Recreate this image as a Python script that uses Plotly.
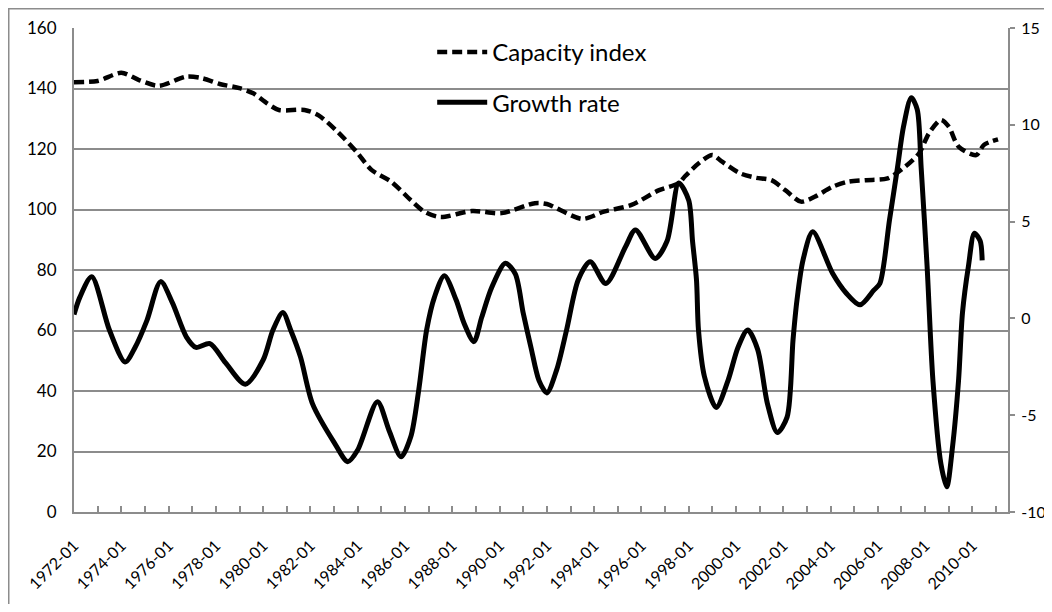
import plotly.graph_objects as go

# Capacity index (left axis)
cap_dates = ["1972-01", "1973-01", "1974-01", "1974-10", "1975-08", "1976-10", "1977-06",
             "1978-03", "1979-01", "1979-08", "1980-03", "1980-09", "1981-10", "1982-05",
             "1983-03", "1984-01", "1984-08", "1985-06", "1986-04", "1986-11", "1987-07",
             "1988-11", "1990-02", "1991-07", "1992-01", "1993-07", "1994-06", "1995-08",
             "1996-10", "1997-08", "1997-11", "1998-06", "1999-01", "1999-06", "2000-03",
             "2000-11", "2001-07", "2002-02", "2002-10", "2003-05", "2004-02", "2004-10",
             "2005-07", "2006-06", "2007-03", "2007-10", "2008-03", "2008-09", "2009-01",
             "2009-06", "2010-03", "2010-07", "2011-02"]
cap_values = [142.1, 142.5, 145.2, 142.8, 140.9, 143.9, 143.4,
              141.5, 140.1, 138.4, 135.1, 132.9, 132.9, 131.2,
              125.6, 118.6, 113.1, 109.2, 103.1, 99.2, 97.5,
              99.5, 98.8, 102.1, 101.8, 96.9, 99.3, 101.5,
              106.4, 108.7, 110.9, 115.2, 118.0, 115.8, 112.0,
              110.5, 109.7, 106.4, 102.6, 104.2, 107.5, 109.2,
              109.7, 110.3, 114.2, 118.6, 125.2, 129.6, 127.4,
              120.8, 118.0, 121.4, 123.2]

# Growth rate (right axis)
growth_dates = ["1972-01", "1972-04", "1972-10", "1973-07", "1974-03", "1974-08", "1975-02",
                "1975-09", "1976-03", "1976-10", "1977-03", "1977-10", "1978-06", "1979-04",
                "1980-01", "1980-06", "1980-11", "1981-03", "1981-08", "1982-02", "1983-01",
                "1983-08", "1984-01", "1984-11", "1985-05", "1985-11", "1986-04", "1986-08",
                "1986-12", "1987-04", "1987-09", "1988-03", "1988-07", "1988-12", "1989-04",
                "1989-09", "1990-04", "1990-09", "1991-01", "1991-05", "1991-09", "1992-01",
                "1992-06", "1992-11", "1993-05", "1993-11", "1994-07", "1995-05", "1995-10",
                "1996-08", "1997-02", "1997-08", "1998-01", "1998-03", "1998-05", "1998-06",
                "1998-09", "1999-03", "1999-09", "2000-02", "2000-07", "2000-12", "2001-05",
                "2001-10", "2002-03", "2002-06", "2002-08", "2002-11", "2003-04", "2004-02",
                "2004-09", "2005-04", "2005-11", "2006-02", "2006-07", "2006-11", "2007-02",
                "2007-06", "2007-09", "2007-11", "2008-02", "2008-05", "2008-09", "2008-12",
                "2009-03", "2009-06", "2009-08", "2009-11", "2010-02", "2010-05", "2010-06"]
growth_values = [0.2, 1.1, 2.15, -0.6, -2.25, -1.5, -0.1,
                 1.9, 0.8, -0.95, -1.5, -1.3, -2.3, -3.4,
                 -2.15, -0.6, 0.3, -0.6, -2.0, -4.4, -6.4,
                 -7.4, -6.8, -4.3, -5.8, -7.15, -6.1, -3.7,
                 -0.6, 1.1, 2.2, 0.95, -0.25, -1.2, 0.07,
                 1.6, 2.85, 2.3, 0.28, -1.5, -3.2, -3.85,
                 -2.66, -0.6, 2.0, 2.93, 1.8, 3.7, 4.57,
                 3.1, 4.0, 7.0, 6.1, 4.0, 2.0, -0.6,
                 -3.0, -4.6, -3.2, -1.5, -0.6, -1.6, -4.4,
                 -5.9, -5.1, -1.1, 0.95, 3.0, 4.47, 2.33,
                 1.3, 0.7, 1.46, 1.8, 5.1, 7.8, 9.9,
                 11.4, 10.8, 7.8, 2.7, -3.2, -7.5, -8.7,
                 -6.6, -3.2, 0.3, 2.7, 4.4, 4.0, 3.0]

left_ticks = [0, 20, 40, 60, 80, 100, 120, 140, 160]
right_ticks = [-10, -5, 0, 5, 10, 15]
right_tick_text = ["-10", "-5", "0", "5", "10", "15"]

GRAY = "#8c8c8c"
FONT = "Lato"

W, H = 1044, 596
ML, MT, PW, PH = 66, 20, 934, 484

fig = go.Figure()
fig.add_trace(go.Scatter(
    x=cap_dates, y=cap_values, name="Capacity index", mode="lines",
    line=dict(color="black", width=4.5, dash="10px,5px", shape="spline", smoothing=0.8),
    legend="legend"))
fig.add_trace(go.Scatter(
    x=growth_dates, y=growth_values, name="Growth rate", mode="lines", yaxis="y2",
    line=dict(color="black", width=5, shape="spline", smoothing=0.8),
    legend="legend2"))

fig.update_layout(
    width=W, height=H,
    margin=dict(l=ML, r=W - ML - PW, t=MT, b=H - MT - PH, autoexpand=False),
    paper_bgcolor="white", plot_bgcolor="white",
    font=dict(family=FONT, size=17, color="black"),
    showlegend=True,
    legend=dict(x=0.3835, y=0.996, xanchor="left", yanchor="top",
                bgcolor="rgba(0,0,0,0)", font=dict(size=24, family=FONT), itemwidth=50),
    legend2=dict(x=0.3835, y=0.892, xanchor="left", yanchor="top",
                 bgcolor="rgba(0,0,0,0)", font=dict(size=24, family=FONT), itemwidth=50),
    xaxis=dict(
        type="date", range=["1972-01-01", "2011-07-05"], automargin=False,
        tick0="1972-01-01", dtick="M24", tickformat="%Y-%m", tickangle=-45,
        ticks="inside", ticklen=6, tickcolor=GRAY, tickwidth=2,
        minor=dict(dtick="M12", ticks="inside", ticklen=6, tickcolor=GRAY, tickwidth=2, showgrid=False),
        showgrid=False, showline=True, linecolor=GRAY, linewidth=2,
        tickfont=dict(size=16), ticklabelstandoff=16),
    yaxis=dict(
        range=[0, 160], tickvals=left_ticks, showgrid=True, gridcolor=GRAY, gridwidth=2,
        showline=True, linecolor=GRAY, linewidth=2, zeroline=False, ticks="", automargin=False,
        ticklabelstandoff=12, tickfont=dict(size=17)),
    yaxis2=dict(
        range=[-10, 15], tickvals=right_ticks, ticktext=right_tick_text,
        overlaying="y", side="right", automargin=False,
        showgrid=False, zeroline=False, showline=True, linecolor=GRAY, linewidth=2,
        ticks="outside", ticklen=5, tickcolor=GRAY, tickwidth=2,
        ticklabelstandoff=3, tickfont=dict(size=16)),
    shapes=[dict(type="rect", xref="paper", yref="paper",
                 x0=(0.75 - ML) / PW, x1=(W + 20 - ML) / PW,
                 y0=(MT + PH - H - 20) / PH, y1=(MT + PH - 0.75) / PH,
                 line=dict(color=GRAY, width=1.5), layer="below")],
)

fig.write_html("out.html")
